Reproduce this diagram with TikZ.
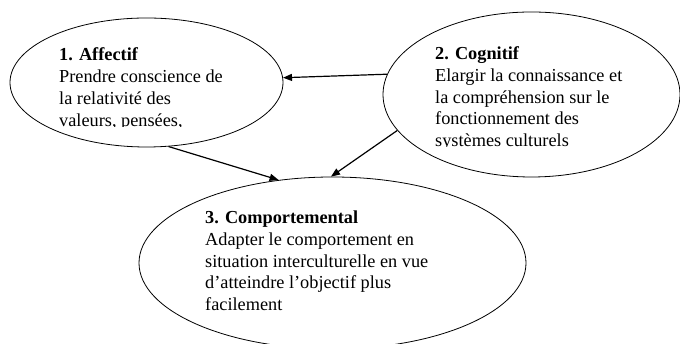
\documentclass[tikz,border=0pt]{standalone}
\usepackage{fontspec}
\setmainfont{Liberation Serif}
\usetikzlibrary{shapes.geometric,arrows.meta}
\tikzset{
  oval/.style={draw=black, line width=0.8pt, ellipse, inner sep=0pt},
  txt/.style={anchor=base west, inner sep=0pt, font=\fontsize{18.3}{21.8}\selectfont},
  link/.style={draw=black, line width=1.2pt, -{Triangle[length=9pt,width=7pt]}}
}
\newcommand{\lines}[1]{\parbox[t]{300pt}{\raggedright #1}}
\begin{document}
\begin{tikzpicture}[x=1pt,y=1pt]
\useasboundingbox (0,0) rectangle (680,344);
\clip (0,0) rectangle (680,344);
\fill[white] (0,0) rectangle (680,344);
% ellipses
\node[oval, minimum width=273pt, minimum height=129pt] (e1) at (146.5,261.5) {};
\node[oval, minimum width=297pt, minimum height=165pt] (e2) at (531.5,249.5) {};
\node[oval, minimum width=387pt, minimum height=172pt] (e3) at (332.5,81) {};
% texts
\begin{scope}
\clip (0,217) rectangle (680,344);
\node[txt] (t1) at (59,283) {\lines{\textbf{1. Affectif}\\Prendre conscience de\\la relativité des\\valeurs, pensées,}};
\end{scope}
\begin{scope}
\clip (0,197) rectangle (680,344);
\node[txt] (t2) at (435,284.5) {\lines{\textbf{2. Cognitif}\\Elargir la connaissance et\\la compréhension sur le\\fonctionnement des\\systèmes culturels}};
\end{scope}
\node[txt] (t3) at (205,120.5) {\lines{\textbf{3. Comportemental}\\Adapter le comportement en\\situation interculturelle en vue\\d’atteindre l’objectif plus\\facilement}};
% connectors
\draw[link] (e2.172.7) -- (e1.2.74);
\draw[link] (e1.-71.35) -- (e3.123.96);
\draw[link] (e2.195.4) -- (e3.91.7);
\end{tikzpicture}
\end{document}
